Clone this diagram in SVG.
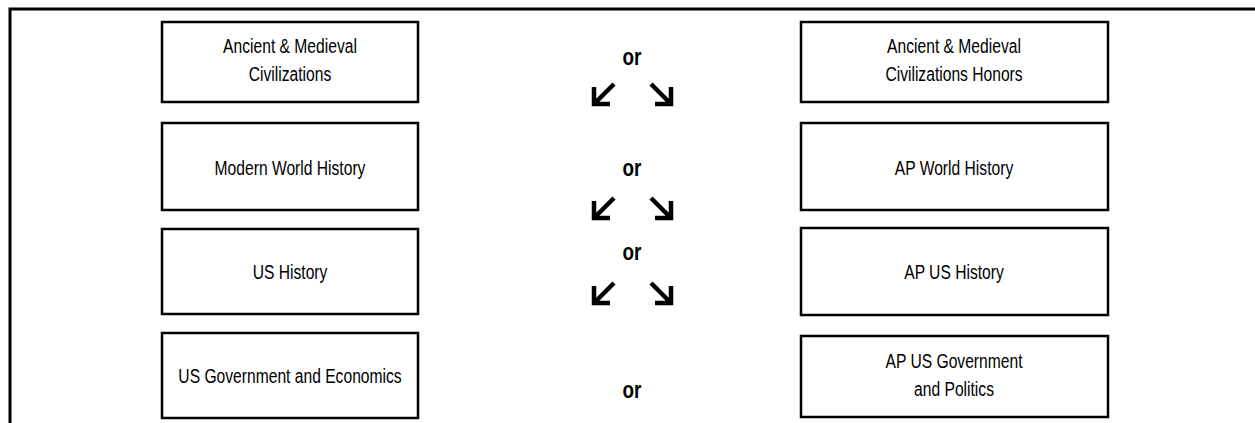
<svg xmlns="http://www.w3.org/2000/svg" width="1255" height="423" viewBox="0 0 1255 423">
  <style>
    .box { fill: #ffffff; stroke: #000000; stroke-width: 2.5; }
    .lbl { font-family: "Liberation Sans", "DejaVu Sans", sans-serif; font-size: 21px; fill: #000000; text-anchor: middle; }
    .or { font-family: "Liberation Sans", "DejaVu Sans", sans-serif; font-weight: bold; font-size: 23px; fill: #000000; text-anchor: middle; }
    .arr { fill: none; stroke: #000000; stroke-width: 4.5; stroke-linecap: butt; stroke-linejoin: miter; }
  </style>

  <!-- outer frame: top and left rules -->
  <path d="M10,423 V9 H1255" fill="none" stroke="#000" stroke-width="3"/>

  <!-- left column (labels set in a condensed face via horizontal scaling) -->
  <g id="ancient">
    <rect class="box" x="162" y="22" width="256" height="80"/>
    <text class="lbl" transform="matrix(0.745 0 0 1 290 53)">Ancient &amp; Medieval</text>
    <text class="lbl" transform="matrix(0.745 0 0 1 290 81)">Civilizations</text>
  </g>
  <g id="modern">
    <rect class="box" x="162" y="123" width="256" height="87"/>
    <text class="lbl" transform="matrix(0.745 0 0 1 290 175)">Modern World History</text>
  </g>
  <g id="ushistory">
    <rect class="box" x="162" y="229" width="256" height="85"/>
    <text class="lbl" transform="matrix(0.745 0 0 1 290 279)">US History</text>
  </g>
  <g id="usgov">
    <rect class="box" x="162" y="333" width="256" height="85"/>
    <text class="lbl" transform="matrix(0.745 0 0 1 290 383)">US Government and Economics</text>
  </g>

  <!-- right column -->
  <g id="ancient-honors">
    <rect class="box" x="801" y="22" width="307" height="80"/>
    <text class="lbl" transform="matrix(0.745 0 0 1 954 53)">Ancient &amp; Medieval</text>
    <text class="lbl" transform="matrix(0.745 0 0 1 954 81)">Civilizations Honors</text>
  </g>
  <g id="ap-world">
    <rect class="box" x="801" y="123" width="307" height="87"/>
    <text class="lbl" transform="matrix(0.745 0 0 1 954 175)">AP World History</text>
  </g>
  <g id="ap-us">
    <rect class="box" x="801" y="228" width="307" height="87"/>
    <text class="lbl" transform="matrix(0.745 0 0 1 954 279)">AP US History</text>
  </g>
  <g id="ap-gov">
    <rect class="box" x="801" y="336" width="307" height="81"/>
    <text class="lbl" transform="matrix(0.745 0 0 1 954 368)">AP US Government</text>
    <text class="lbl" transform="matrix(0.745 0 0 1 954 396)">and Politics</text>
  </g>

  <!-- "or" labels with diverging arrows -->
  <g id="connectors">
    <text class="or" transform="matrix(0.82 0 0 1 632 65)">or</text>
    <text class="or" transform="matrix(0.82 0 0 1 632 176)">or</text>
    <text class="or" transform="matrix(0.82 0 0 1 632 260)">or</text>
    <text class="or" transform="matrix(0.82 0 0 1 632 398)">or</text>

    <path class="arr" d="M614,84 L595,103 M594,87 V104 H610"/>
    <path class="arr" d="M651,84 L670,103 M671,87 V104 H655"/>

    <path class="arr" d="M614,198 L595,217 M594,201 V218 H610"/>
    <path class="arr" d="M651,198 L670,217 M671,201 V218 H655"/>

    <path class="arr" d="M614,283 L595,302 M594,286 V303 H610"/>
    <path class="arr" d="M651,283 L670,302 M671,286 V303 H655"/>
  </g>
</svg>
